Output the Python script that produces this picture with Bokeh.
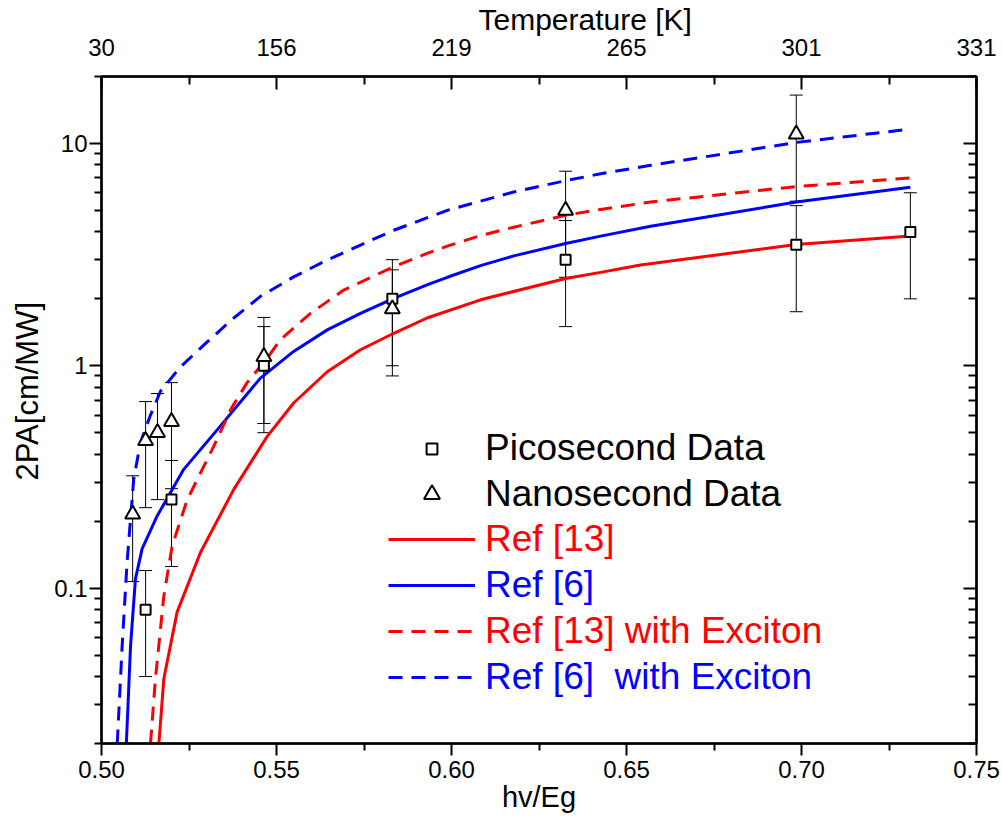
from bokeh.plotting import figure
from bokeh.models import (LinearAxis, LogAxis, FixedTicker, Whisker, TeeHead,
                          ColumnDataSource, Legend, LegendItem, Range1d, Title)
from bokeh.embed import file_html
from bokeh.resources import INLINE

# ---------------- data ----------------
x_ticks = [0.50, 0.55, 0.60, 0.65, 0.70, 0.75]
x_tick_labels = ["0.50", "0.55", "0.60", "0.65", "0.70", "0.75"]
x_minor = [0.525, 0.575, 0.625, 0.675, 0.725]
temp_labels = ["30", "156", "219", "265", "301", "331"]
y_ticks = [0.1, 1, 10]
y_tick_labels = ["0.1", "1", "10"]
y_minor = [0.02, 0.03, 0.04, 0.05, 0.06, 0.07, 0.08, 0.09,
           0.2, 0.3, 0.4, 0.5, 0.6, 0.7, 0.8, 0.9,
           2, 3, 4, 5, 6, 7, 8, 9, 20]

pico_x = [0.5126, 0.5200, 0.5464, 0.5831, 0.6326, 0.6985, 0.7311]
pico_y = [0.08, 0.25, 1.0, 2.0, 3.0, 3.5, 4.0]
pico_lo = [0.04, 0.125, 0.5, 1.0, 1.5, 1.75, 2.0]
pico_hi = [0.12, 0.375, 1.5, 3.0, 4.5, 5.25, 6.0]

nano_x = [0.5089, 0.5126, 0.5160, 0.5200, 0.5464, 0.5831, 0.6326, 0.6985]
nano_y = [0.215, 0.46, 0.50, 0.56, 1.1, 1.8, 5.0, 11.0]
nano_lo = [0.107, 0.23, 0.25, 0.28, 0.55, 0.9, 2.5, 5.5]
nano_hi = [0.32, 0.69, 0.75, 0.84, 1.65, 2.7, 7.5, 16.5]

ref13_x = [0.5164, 0.5178, 0.5216, 0.5283, 0.5378, 0.5473, 0.5549, 0.5645,
           0.5740, 0.5835, 0.5930, 0.6083, 0.6326, 0.6426, 0.6540, 0.6985, 0.7311]
ref13_y = [0.02, 0.039, 0.078, 0.145, 0.278, 0.48, 0.68, 0.94,
           1.18, 1.40, 1.64, 1.98, 2.47, 2.63, 2.84, 3.51, 3.83]

ref6_x = [0.5071, 0.5083, 0.5097, 0.5116, 0.5159, 0.5235, 0.5331, 0.5454,
          0.5549, 0.5645, 0.5740, 0.5835, 0.5930, 0.5988, 0.6083, 0.6178,
          0.6326, 0.6426, 0.6569, 0.6985, 0.7311]
ref6_y = [0.02, 0.055, 0.11, 0.15, 0.211, 0.342, 0.516, 0.88,
          1.16, 1.45, 1.72, 2.01, 2.31, 2.50, 2.82, 3.12,
          3.55, 3.83, 4.24, 5.45, 6.35]

ref13x_x = [0.5140, 0.5154, 0.5178, 0.5202, 0.5245, 0.5321, 0.5369, 0.5416,
            0.5473, 0.5511, 0.5597, 0.5692, 0.5835, 0.5930, 0.5988, 0.6083,
            0.6178, 0.6326, 0.6426, 0.6569, 0.6985, 0.7311]
ref13x_y = [0.02, 0.039, 0.092, 0.155, 0.25, 0.435, 0.635, 0.84,
            1.08, 1.31, 1.72, 2.19, 2.79, 3.20, 3.45, 3.85,
            4.20, 4.75, 5.05, 5.45, 6.4, 7.0]

ref6x_x = [0.5045, 0.5059, 0.5073, 0.5092, 0.5111, 0.5140, 0.5169, 0.5226,
           0.5302, 0.5378, 0.5454, 0.5549, 0.5645, 0.5740, 0.5835, 0.5988,
           0.6178, 0.6326, 0.6426, 0.6569, 0.6985, 0.7311]
ref6x_y = [0.02, 0.055, 0.13, 0.308, 0.45, 0.60, 0.77, 0.99,
           1.28, 1.64, 2.05, 2.51, 2.99, 3.49, 4.07, 5.0,
           6.05, 6.8, 7.3, 7.97, 10.1, 11.6]

# ---------------- figure ----------------
FONT = "Liberation Sans"
RED = "#FF0000"
BLUE = "#0000FF"

p = figure(width=1002, height=828, x_range=Range1d(0.5, 0.75),
           y_range=Range1d(0.02, 20), y_axis_type="log",
           output_backend="svg", toolbar_location=None,
           min_border_left=101, min_border_right=26,
           min_border_top=76, min_border_bottom=85)
p.xgrid.visible = False
p.ygrid.visible = False
p.outline_line_color = "black"
p.outline_line_width = 2
p.background_fill_color = "white"
p.border_fill_color = "white"


def style_axis(ax, tin, tout, mtin, mtout):
    ax.axis_line_width = 2.5
    ax.axis_line_color = "black"
    ax.major_tick_line_width = 2
    ax.minor_tick_line_width = 2
    ax.major_tick_in = tin
    ax.major_tick_out = tout
    ax.minor_tick_in = mtin
    ax.minor_tick_out = mtout
    ax.major_label_text_font = FONT
    ax.major_label_text_font_size = "24px"
    ax.major_label_text_color = "black"
    ax.axis_label_text_font = FONT
    ax.axis_label_text_font_style = "normal"
    ax.axis_label_text_color = "black"


xt = FixedTicker(ticks=x_ticks, minor_ticks=x_minor)
yt = FixedTicker(ticks=y_ticks, minor_ticks=y_minor)

xa = p.xaxis[0]
xa.ticker = xt
xa.major_label_overrides = dict(zip(x_ticks, x_tick_labels))
xa.axis_label = "hv/Eg"
style_axis(xa, 0, 12, 0, 7)
xa.axis_label_text_font_size = "29px"
xa.major_label_standoff = 5
xa.axis_label_standoff = 0

ya = p.yaxis[0]
ya.ticker = yt
ya.major_label_overrides = dict(zip(y_ticks, y_tick_labels))
style_axis(ya, 0, 12, 0, 7)
ya.major_label_standoff = 2

top = LinearAxis(ticker=FixedTicker(ticks=x_ticks, minor_ticks=x_minor))
top.major_label_overrides = dict(zip(x_ticks, temp_labels))
style_axis(top, 13, 0, 8, 0)
top.major_label_standoff = 21
p.add_layout(top, "above")

right = LogAxis(ticker=FixedTicker(ticks=y_ticks, minor_ticks=y_minor))
style_axis(right, 13, 0, 8, 0)
right.major_label_text_font_size = "0px"
right.major_label_text_alpha = 0
right.major_label_standoff = 0
p.add_layout(right, "right")

# axis titles as side-panel titles so they can be offset like the original
ttl_top = Title(text="Temperature [K]", align="left", offset=377,
                text_font=FONT, text_font_size="30px", text_font_style="normal",
                text_color="black", standoff=0)
p.add_layout(ttl_top, "above")
ttl_left = Title(text="2PA[cm/MW]", align="left", offset=263,
                 text_font=FONT, text_font_size="31px", text_font_style="normal",
                 text_color="black", standoff=14)
p.add_layout(ttl_left, "left")

# ---------------- curves ----------------
r13 = p.line(ref13_x, ref13_y, line_color=RED, line_width=3)
r6 = p.line(ref6_x, ref6_y, line_color=BLUE, line_width=3)
r13x = p.line(ref13x_x, ref13x_y, line_color=RED, line_width=3, line_dash="14 9")
r6x = p.line(ref6x_x, ref6x_y, line_color=BLUE, line_width=3, line_dash="14 9")

# ---------------- error bars ----------------
for xs, lo, hi in [(pico_x, pico_lo, pico_hi), (nano_x, nano_lo, nano_hi)]:
    src = ColumnDataSource(dict(x=xs, lower=lo, upper=hi))
    w = Whisker(source=src, base="x", lower="lower", upper="upper",
                dimension="height", line_color="black", line_width=1,
                upper_head=TeeHead(size=13, line_color="black", line_width=1),
                lower_head=TeeHead(size=13, line_color="black", line_width=1),
                level="underlay")
    p.add_layout(w)

# ---------------- markers ----------------
rp = p.scatter(pico_x, pico_y, marker="square", size=10, fill_color="white",
               line_color="black", line_width=2)
rn = p.scatter(nano_x, nano_y, marker="triangle", size=15, fill_color="white",
               line_color="black", line_width=2)

# ---------------- legend ----------------
entries = [("Picosecond Data", rp, "black", 27),
           ("Nanosecond Data", rn, "black", 40),
           ("Ref [13]", r13, RED, 30),
           ("Ref [6]", r6, BLUE, 30),
           ("Ref [13] with Exciton", r13x, RED, 30),
           ("Ref [6]  with Exciton", r6x, BLUE, 30)]
row_step = 45.7
top_row_from_bottom = 295
item_h = 42
for i, (lab, rend, col, gh) in enumerate(entries):
    yc = top_row_from_bottom - i * row_step
    leg = Legend(items=[LegendItem(label=lab, renderers=[rend])],
                 location=(287, yc - item_h / 2),
                 label_text_color=col, label_text_font=FONT,
                 label_text_font_size="37px", glyph_width=87, glyph_height=gh,
                 label_height=30, label_standoff=10, padding=0, margin=0,
                 spacing=0, border_line_color=None, background_fill_alpha=0)
    p.add_layout(leg)

open("out.html", "w").write(file_html(p, INLINE))
